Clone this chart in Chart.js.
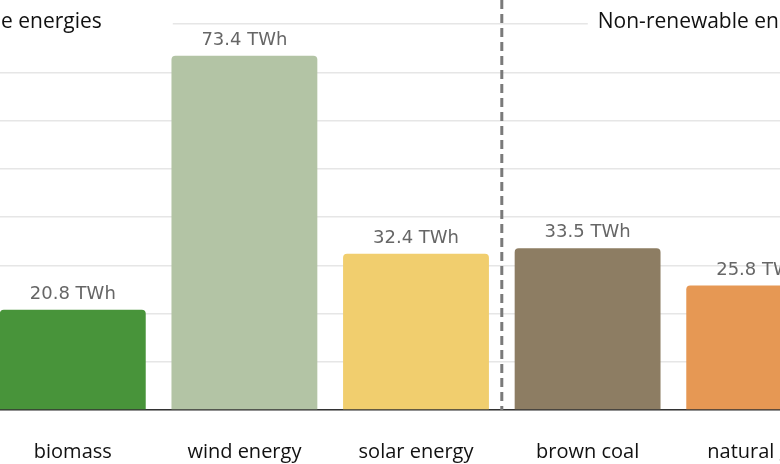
<!DOCTYPE html>
<html>
<head>
<meta charset="utf-8">
<script src="https://cdn.jsdelivr.net/npm/chart.js@4"></script>
<style>
  html, body { margin: 0; padding: 0; background: #fff; overflow: hidden; width: 780px; height: 464px; }
  #wrap { position: absolute; left: -13px; top: 0; width: 858px; height: 464px; }
</style>
</head>
<body>
<div id="wrap"><canvas id="chart"></canvas></div>
<script>
const categories = ['biomass', 'wind energy', 'solar energy', 'brown coal', 'natural gas'];
const generation = [20.8, 73.4, 32.4, 33.5, 25.8];
const barColors = ['rgb(72,148,58)', 'rgb(179,196,165)', 'rgb(241,206,110)', 'rgb(141,125,99)', 'rgb(230,152,84)'];
const groupNames = ['Renewable energies', 'Non-renewable energies'];
const renewableCount = 3;
const unit = 'TWh';

// value text above each bar
const valueLabels = {
    id: 'valueLabels',
    afterDatasetsDraw(chart) {
        const ctx = chart.ctx;
        ctx.save();
        ctx.font = '18px "DejaVu Sans"';
        ctx.fillStyle = '#666';
        ctx.textAlign = 'center';
        ctx.textBaseline = 'alphabetic';
        chart.getDatasetMeta(0).data.forEach((bar, i) => {
            ctx.fillText(generation[i].toFixed(1) + ' ' + unit, bar.x, bar.y - 11);
        });
        ctx.restore();
    }
};

// group captions and dashed separator
const groups = {
    id: 'groups',
    beforeDatasetsDraw(chart) {
        const ctx = chart.ctx;
        const x = chart.scales.x;
        const split = (x.getPixelForValue(renewableCount - 1) + x.getPixelForValue(renewableCount)) / 2;
        ctx.save();
        ctx.font = '21px "Open Sans"';
        ctx.textBaseline = 'alphabetic';

        const w0 = ctx.measureText(groupNames[0]).width;
        const r0 = split - 400;
        ctx.fillStyle = '#fff';
        ctx.fillRect(r0 - w0 - 10, 6, w0 + 81, 30);
        ctx.fillStyle = '#111';
        ctx.textAlign = 'right';
        ctx.fillText(groupNames[0], r0, 28);

        const w1 = ctx.measureText(groupNames[1]).width;
        const l1 = split + 96;
        ctx.fillStyle = '#fff';
        ctx.fillRect(l1 - 10, 6, w1 + 20, 30);
        ctx.fillStyle = '#111';
        ctx.textAlign = 'left';
        ctx.fillText(groupNames[1], l1, 28);
        ctx.restore();
    },
    afterDatasetsDraw(chart) {
        const ctx = chart.ctx;
        const x = chart.scales.x;
        const split = (x.getPixelForValue(renewableCount - 1) + x.getPixelForValue(renewableCount)) / 2;
        ctx.save();
        ctx.strokeStyle = '#7a7a7a';
        ctx.lineWidth = 3;
        ctx.setLineDash([9, 5]);
        ctx.beginPath();
        ctx.moveTo(split, 0);
        ctx.lineTo(split, chart.chartArea.bottom);
        ctx.stroke();
        ctx.restore();
    }
};

new Chart(document.getElementById('chart').getContext('2d'), {
    type: 'bar',
    data: {
        labels: categories,
        datasets: [{
            data: generation,
            backgroundColor: barColors,
            borderRadius: 4,
            barPercentage: 0.85,
            categoryPercentage: 1
        }]
    },
    options: {
        responsive: true,
        maintainAspectRatio: false,
        animation: false,
        layout: { padding: { top: 24, left: 0, right: 0, bottom: 0 } },
        plugins: {
            legend: { display: false },
            tooltip: { enabled: false }
        },
        scales: {
            x: {
                grid: { display: false, drawTicks: false },
                border: { display: true, color: '#333', width: 1.5 },
                ticks: {
                    padding: 30,
                    color: '#111',
                    font: { family: '"Open Sans"', size: 20 }
                },
                afterFit(scale) { scale.height = 54; }
            },
            y: {
                min: 0,
                max: 80,
                ticks: { display: false, stepSize: 10 },
                grid: { color: '#e6e6e6', lineWidth: 1.5, drawTicks: false },
                border: { display: false }
            }
        }
    },
    plugins: [valueLabels, groups]
});
</script>
</body>
</html>
